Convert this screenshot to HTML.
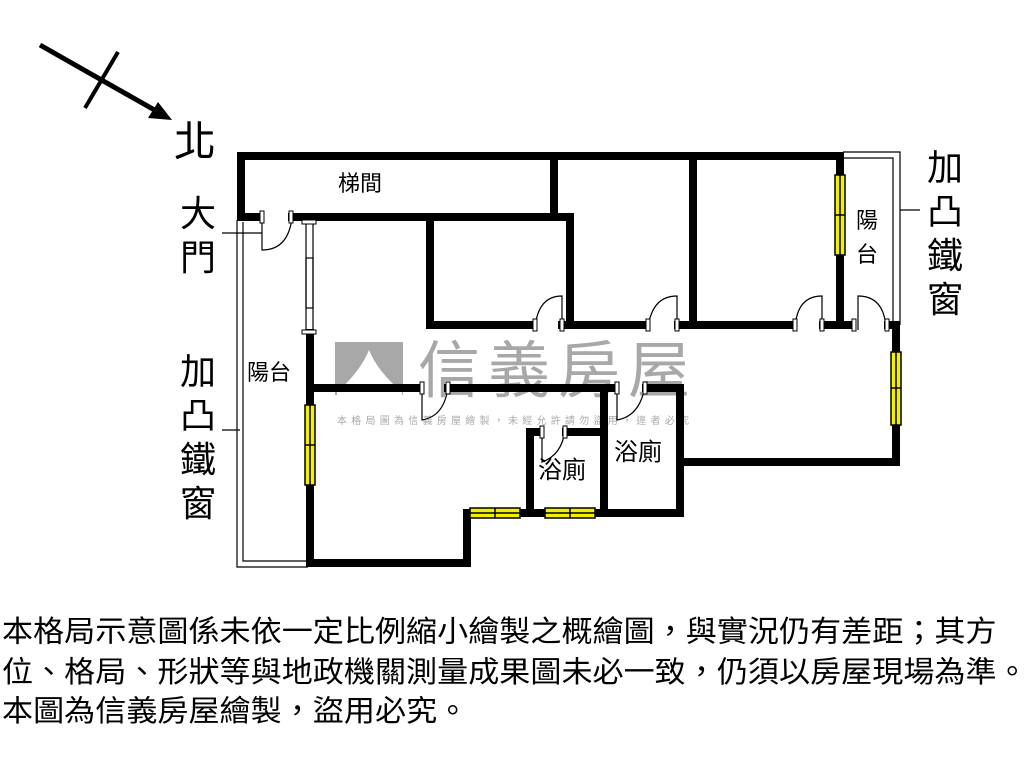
<!DOCTYPE html>
<html><head><meta charset="utf-8"><style>
body{margin:0;background:#fff;width:1024px;height:768px;overflow:hidden;position:relative;font-family:"Liberation Sans","Noto Sans CJK TC",sans-serif}
svg{position:absolute;left:0;top:0}
.note{position:absolute;left:2px;top:612px;font-size:28px;line-height:37.5px;color:#000;white-space:nowrap;letter-spacing:0px;transform:scale(1.11,1.06);transform-origin:0 0}
</style></head><body>
<svg width="1024" height="768" viewBox="0 0 1024 768" font-family="Liberation Sans, Noto Sans CJK TC, sans-serif">
<rect x="335" y="342" width="68" height="53" fill="#a8a8a8"/>
<path d="M337 392 Q360 372 369 350 Q378 372 402 392 L402 395 L337 395Z" fill="#fff"/>
<text x="418" y="392" font-size="62" fill="#a8a8a8" font-family="Noto Sans CJK TC, sans-serif" textLength="272">信義房屋</text>
<text x="337" y="424" font-size="10" fill="#aaa" font-family="Noto Sans CJK TC, sans-serif" textLength="352">本格局圖為信義房屋繪製，未經允許請勿盜用，違者必究</text>

<line x1="40" y1="45" x2="158" y2="112" stroke="#000" stroke-width="5"/>
<polygon points="172,120 148,118 158,102" fill="#000"/>
<line x1="118" y1="52" x2="85" y2="108" stroke="#000" stroke-width="4"/>
<text x="174" y="156" font-size="42" font-family="Noto Sans CJK TC, sans-serif">北</text>

<g fill="none" stroke="#000" stroke-width="1.2">
<path d="M237 220 V567 H308"/>
<path d="M243 222 V561 H308"/>
<path d="M843 152 H900 V325"/>
<path d="M843 158 H893 V325"/>
<line x1="222" y1="233" x2="262" y2="233"/>
<line x1="222" y1="430" x2="240" y2="430"/>
<line x1="900" y1="210" x2="920" y2="210"/>
<line x1="306" y1="222" x2="306" y2="333"/>
<line x1="313" y1="222" x2="313" y2="333"/>
<rect x="306" y="258" width="7" height="50"/>
</g>

<g stroke="#000" stroke-width="8" fill="none" stroke-linecap="square">
<path d="M241 156 H839"/>
<line x1="241" y1="156" x2="241" y2="217"/>
<line x1="241" y1="217" x2="260" y2="217"/>
<line x1="292" y1="217" x2="570" y2="217"/>
<line x1="554" y1="156" x2="554" y2="217"/>
<path d="M430 217 V325 H533"/>
<path d="M570 217 V325 H646"/>
<line x1="562" y1="325" x2="570" y2="325"/>
<line x1="678" y1="325" x2="793" y2="325"/>
<line x1="693" y1="156" x2="693" y2="325"/>
<line x1="840" y1="156" x2="840" y2="175"/>
<line x1="840" y1="255" x2="840" y2="325"/>
<line x1="823" y1="325" x2="852" y2="325"/>
<line x1="888" y1="325" x2="896" y2="325"/>
<line x1="896" y1="325" x2="896" y2="352"/>
<path d="M896 425 V462 H680 V388 H646"/>
<line x1="310" y1="333" x2="310" y2="405"/>
<line x1="310" y1="485" x2="310" y2="563"/>
<line x1="310" y1="388" x2="420" y2="388"/>
<line x1="448" y1="388" x2="615" y2="388"/>
<line x1="604" y1="388" x2="604" y2="513"/>
<path d="M530 513 V432 H540"/>
<line x1="566" y1="432" x2="604" y2="432"/>
<path d="M310 563 H467 V513 H470"/>
<line x1="520" y1="513" x2="545" y2="513"/>
<line x1="595" y1="513" x2="680" y2="513"/>
<line x1="680" y1="462" x2="680" y2="513"/>
</g>

<g stroke="#000" stroke-width="1.5" fill="#f2f000">
<rect x="835" y="175" width="10" height="80"/><line x1="840" y1="175" x2="840" y2="255"/><line x1="835" y1="215" x2="845" y2="215"/>
<rect x="891" y="352" width="10" height="73"/><line x1="896" y1="352" x2="896" y2="425"/><line x1="891" y1="388" x2="901" y2="388"/>
<rect x="305" y="405" width="10" height="80"/><line x1="310" y1="405" x2="310" y2="485"/><line x1="305" y1="445" x2="315" y2="445"/>
<rect x="470" y="508" width="50" height="10"/><line x1="470" y1="513" x2="520" y2="513"/><line x1="495" y1="508" x2="495" y2="518"/>
<rect x="545" y="508" width="50" height="10"/><line x1="545" y1="513" x2="595" y2="513"/><line x1="570" y1="508" x2="570" y2="518"/>
</g>

<g fill="none" stroke="#000" stroke-width="1.2">
<path d="M262 212 V250 Q288 250 292 218"/>
<path d="M562 330 V296 Q538 296 535 328"/>
<path d="M677 330 V296 Q652 296 648 328"/>
<path d="M822 330 V296 Q797 296 795 328"/>
<path d="M858 330 V296 Q884 296 886 328"/>
<path d="M422 383 V420 Q445 416 448 386"/>
<path d="M617 383 V420 Q640 416 645 386"/>
<path d="M542 428 V462 Q562 455 565 430"/>
</g>
<g fill="#fff" stroke="#000" stroke-width="1">
<rect x="260" y="211" width="4" height="12"/><rect x="289" y="211" width="4" height="12"/>
<rect x="533" y="319" width="4" height="12"/><rect x="560" y="319" width="4" height="12"/>
<rect x="646" y="319" width="4" height="12"/><rect x="675" y="319" width="4" height="12"/>
<rect x="793" y="319" width="4" height="12"/><rect x="820" y="319" width="4" height="12"/>
<rect x="852" y="319" width="4" height="12"/><rect x="885" y="319" width="4" height="12"/>
<rect x="420" y="382" width="4" height="12"/><rect x="446" y="382" width="4" height="12"/>
<rect x="615" y="382" width="4" height="12"/><rect x="643" y="382" width="4" height="12"/>
<rect x="540" y="426" width="4" height="12"/><rect x="563" y="426" width="4" height="12"/>
<rect x="302" y="220" width="14" height="4"/><rect x="302" y="330" width="14" height="4"/>
</g>

<g font-family="Noto Sans CJK TC, sans-serif" fill="#000">
<text x="338" y="191" font-size="22">梯間</text>
<text x="247" y="380" font-size="22">陽台</text>
<text x="856" y="228" font-size="22">陽</text>
<text x="856" y="262" font-size="22">台</text>
<text x="538" y="478" font-size="24">浴廁</text>
<text x="614" y="460" font-size="24">浴廁</text>
<text x="180" y="226" font-size="36">大</text>
<text x="180" y="270" font-size="36">門</text>
<text x="180" y="384" font-size="36">加</text>
<text x="180" y="428" font-size="36">凸</text>
<text x="180" y="472" font-size="36">鐵</text>
<text x="180" y="516" font-size="36">窗</text>
<text x="927" y="180" font-size="36">加</text>
<text x="927" y="224" font-size="36">凸</text>
<text x="927" y="268" font-size="36">鐵</text>
<text x="927" y="312" font-size="36">窗</text>
</g>
</svg>
<div class="note">本格局示意圖係未依一定比例縮小繪製之概繪圖，與實況仍有差距；其方<br>位、格局、形狀等與地政機關測量成果圖未必一致，仍須以房屋現場為準。<br>本圖為信義房屋繪製，盜用必究。</div>
</body></html>
